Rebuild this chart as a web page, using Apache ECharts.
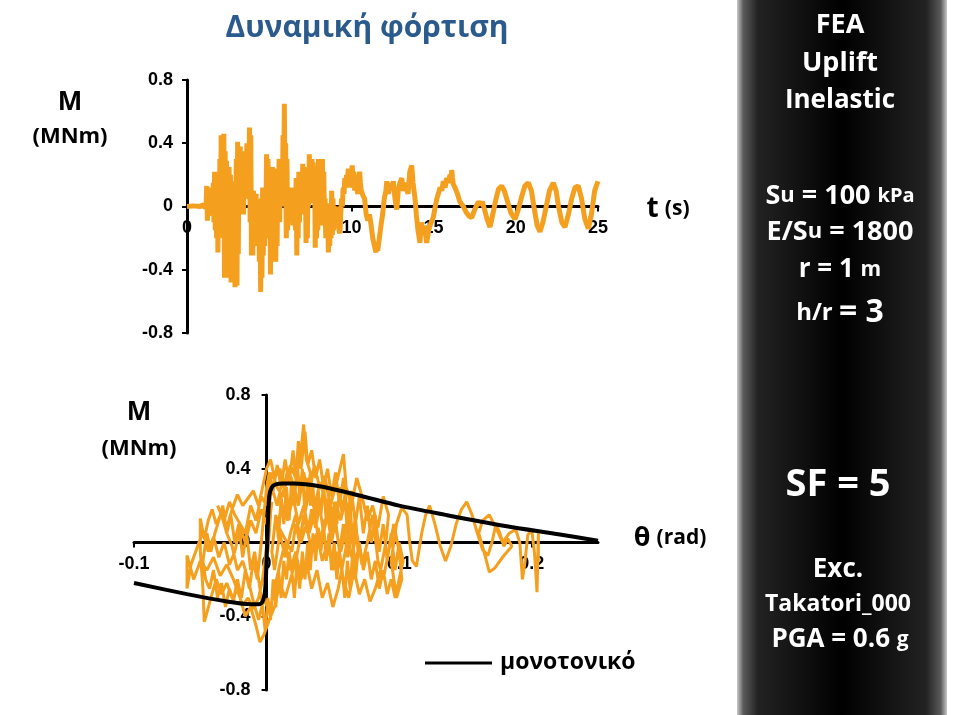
<!DOCTYPE html>
<html><head><meta charset="utf-8">
<script src="https://cdn.jsdelivr.net/npm/echarts@6/dist/echarts.min.js"></script>
<style>html,body{margin:0;padding:0;background:#fff}#c{width:953px;height:715px}</style>
</head><body><div id="c"></div>
<script>
// ---- Time history M(t) ----
const earlyT = [0,0.4,0.8,1.0,1.1,1.16];
const earlyM = [0,0.004,0,0.012,-0.01,0.01];
const denseStart = 1.2, denseStep = 0.04;   // sampling of the strong-motion part (1.20 s ... 8.96 s)
const denseM = [
 0.13,-0.09,0.08,-0.06,0.12,  -0.05,0.1,-0.03,0.08,-0.04,  0.15,-0.1,0.22,-0.15,0.18,  -0.2,0.2,-0.29,0.1,-0.15,
 0.3,-0.05,0.45,0.1,0.42,  -0.2,0.46,-0.45,0.35,-0.3,  0.29,-0.45,0.2,-0.35,0.25,  -0.3,0.2,-0.48,0.1,-0.4,
 0.16,-0.45,0.05,-0.51,-0.1,  0.3,-0.5,0.41,-0.3,0.35,  0.05,0.38,0.0,0.32,0.1,  0.35,-0.05,0.3,0.05,0.28,
 0.05,0.4,0.1,0.35,0.08,  0.5,-0.1,0.45,-0.31,0.1,  -0.31,0.1,-0.25,0.05,-0.2,  0.08,-0.25,0.02,-0.2,0.05,
 -0.35,0.0,-0.54,-0.1,-0.45,  0.12,-0.31,0.05,-0.25,0.1,  -0.05,0.33,0.0,0.3,0.15,  -0.2,0.15,-0.43,0.1,-0.35,
 0.25,-0.3,0.2,-0.2,0.22,  -0.35,0.24,-0.25,0.2,-0.1,  0.3,-0.1,0.25,0.0,0.3,  0.05,0.45,0.0,0.65,0.1,
 0.4,-0.2,0.3,-0.15,0.1,  -0.1,0.12,-0.08,0.1,-0.05,  0.12,-0.12,0.1,-0.1,0.08,  -0.15,0.18,-0.31,0.1,-0.2,
 0.22,-0.1,0.2,-0.05,0.15,  -0.05,0.27,0.0,0.25,-0.02,  0.2,-0.23,0.15,-0.2,0.1,  0.0,0.33,0.05,0.3,0.02,
 0.3,0.05,0.28,0.08,0.25,  -0.26,0.2,-0.2,0.1,-0.15,  0.3,0.05,0.28,0.1,0.25,  -0.12,0.3,-0.05,0.22,-0.1,
 0.05,-0.2,0.02,-0.15,0.0,  -0.29,-0.05,-0.25,-0.1,-0.2,  0.1,-0.18,0.05,-0.15,0.0];
const lateT = [9.05,9.1,9.15,9.2,9.25,9.3,9.35,9.4,9.45,9.5,9.55,9.6,9.65,9.7,9.75,9.81,9.86,9.9,9.95,10.0,10.05,10.1,10.15,10.2,10.25,10.3,10.35,10.4,10.45,10.5,10.55,10.6,10.7,10.8,10.9,11.0,11.1,11.2,11.3,11.4,11.5,11.55,11.6,11.7,11.8,11.9,12.0,12.1,12.15,12.25,12.35,12.45,12.55,12.65,12.76,12.85,12.95,13.06,13.15,13.25,13.36,13.45,13.55,13.67,13.75,13.87,13.95,14.05,14.17,14.25,14.35,14.45,14.58,14.7,14.85,14.98,15.1,15.2,15.29,15.4,15.5,15.59,15.7,15.8,15.9,16.0,16.05,16.1,16.15,16.2,16.3,16.45,16.6,16.81,17.0,17.15,17.32,17.5,17.72,17.85,17.96,18.1,18.25,18.43,18.6,18.8,18.95,19.14,19.3,19.5,19.7,19.95,20.15,20.35,20.55,20.76,20.95,21.1,21.3,21.47,21.65,21.85,22.05,22.28,22.45,22.6,22.8,22.99,23.2,23.4,23.6,23.8,24.0,24.2,24.41,24.6,24.8,25.0];
const lateM = [-0.08,-0.12,0,-0.1,-0.15,-0.17,-0.05,0.05,0,0.12,0.08,0.18,0.12,0.2,0.15,0.24,0.18,0.22,0.12,0.2,0.26,0.15,0.22,0.1,0.17,0.2,0.1,0.08,0.16,0.22,0.15,0.1,0.07,0.05,-0.05,-0.09,-0.05,-0.12,-0.2,-0.25,-0.29,-0.24,-0.28,-0.2,-0.12,-0.05,0.05,0.1,0.16,0.08,0.15,0.1,0.16,0.05,-0.02,0.1,0.15,0.18,0.1,0.15,0.15,0.08,0.22,0.26,0.15,0.05,-0.05,-0.15,-0.23,-0.1,-0.18,-0.12,-0.23,-0.15,-0.1,-0.07,0,0.05,0.05,0.12,0.1,0.16,0.12,0.18,0.15,0.2,0.17,0.23,0.18,0.14,0.12,0.08,0.03,0,-0.04,-0.06,-0.07,-0.02,0.03,0.01,0.03,-0.02,-0.08,-0.13,-0.05,0.05,0.11,0.13,0.1,0.03,-0.04,-0.08,-0.02,0.06,0.13,0.15,0.1,0,-0.12,-0.16,-0.1,0,0.1,0.15,0.1,0,-0.1,-0.13,-0.05,0.05,0.12,0.13,0.05,-0.08,-0.14,-0.05,0.1,0.16];

// ---- Hysteresis M(theta) ----
const thetaX = [0,0.002,0.001,0.003,-0.002,0.004,-0.003,
 -0.006,-0.01,-0.014,-0.018,-0.022,-0.026,-0.03,-0.034,-0.038,-0.042,-0.045,-0.047,-0.048,-0.05,-0.05,
 -0.047,-0.044,-0.041,-0.038,-0.034,-0.03,-0.026,-0.022,-0.018,-0.014,-0.01,-0.006,-0.003,0,0.003,0.006,0.01,0.014,0.018,0.022,0.026,0.028,0.03,0.033,
 0.03,0.026,0.022,0.018,0.014,0.01,0.006,0.002,-0.002,-0.005,-0.008,-0.012,-0.016,-0.02,-0.025,-0.03,-0.035,-0.04,-0.045,-0.05,-0.055,-0.06,-0.06,-0.057,
 -0.052,-0.048,-0.044,-0.04,-0.036,-0.032,-0.028,-0.024,-0.02,-0.016,-0.012,-0.008,-0.004,0,0.004,0.008,0.012,0.016,0.02,0.024,0.028,0.032,0.036,0.04,0.044,0.048,0.052,0.056,0.058,0.06,0.064,
 0.062,0.058,0.054,0.05,0.046,0.042,0.038,0.034,0.03,0.026,0.022,0.018,0.014,0.01,0.006,0.002,-0.002,-0.006,-0.01,-0.014,-0.018,-0.022,-0.026,-0.03,-0.034,-0.037,
 -0.032,-0.028,-0.024,-0.02,-0.016,-0.012,-0.008,-0.004,0,0.004,0.008,0.012,0.016,0.02,0.024,0.028,0.032,0.036,0.04,0.044,0.048,0.052,0.056,0.06,0.064,0.068,0.072,0.076,0.08,0.084,0.088,0.092,
 0.09,0.086,0.082,0.078,0.074,0.07,0.066,0.062,0.058,0.054,0.05,0.046,0.042,0.038,0.034,0.03,0.026,0.022,0.018,0.014,0.01,0.006,0.004,
 0.007,0.009,0.011,0.013,0.015,0.017,0.019,0.021,0.023,0.025,0.027,0.029,0.031,0.033,0.035,0.037,0.039,0.041,0.043,0.045,0.047,0.049,0.051,0.053,0.055,0.057,0.059,0.061,0.063,0.065,0.067,0.069,
 0.067,0.065,0.063,0.061,0.059,0.057,0.055,0.053,0.051,0.049,0.047,0.045,0.043,0.041,0.039,0.037,0.035,0.033,0.031,0.029,0.027,0.025,0.023,0.021,0.019,0.017,0.015,0.013,0.011,0.009,0.007,0.005,0.003,0.001,-0.001,-0.003,
 -0.006,-0.009,-0.012,-0.015,-0.018,-0.021,-0.024,-0.027,-0.03,-0.033,-0.036,-0.039,-0.042,-0.045,-0.048,-0.046,-0.043,-0.04,-0.037,-0.034,-0.031,-0.028,-0.025,-0.022,-0.019,-0.016,-0.013,-0.01,-0.007,-0.004,-0.002,0,0.002,
 0.005,0.008,0.011,0.014,0.017,0.02,0.022,0.024,0.026,0.029,0.031,0.034,0.037,0.04,0.043,0.046,0.049,0.052,0.055,0.058,0.061,0.064,0.067,0.07,0.073,0.076,0.079,0.082,0.085,0.088,0.091,0.094,0.097,0.1,0.103,
 0.1,0.097,0.094,0.091,0.088,0.085,0.082,0.079,0.076,0.073,0.07,0.067,0.064,0.061,0.058,0.055,0.052,0.049,0.046,0.043,0.04,0.037,0.034,0.031,0.028,0.025,0.022,0.019,
 0.008,0.012,0.016,0.02,0.024,0.028,0.032,0.036,0.04,0.044,0.048,0.052,0.056,0.06,0.064,0.068,0.072,0.076,0.08,0.084,0.088,0.092,0.096,0.1,0.102,0.098,0.094,0.098,0.102,0.106,0.108,0.11,0.113,
 0.117,0.12,0.123,0.127,0.131,0.135,0.139,0.143,0.147,0.151,0.155,0.159,0.163,0.167,0.17,0.173,0.176,0.179,0.182,0.185,
 0.178,0.172,0.168,0.164,0.16,0.163,0.168,0.173,0.178,0.183,0.188,0.191,0.193,0.195,0.197,0.2,0.202,0.203,0.204,0.205,0.205];
const thetaM = [0,0.1,-0.05,0.15,-0.15,0.22,-0.2,
 -0.3,-0.36,-0.3,-0.34,-0.26,-0.3,-0.22,-0.28,-0.2,-0.3,-0.38,-0.43,-0.25,-0.05,0.13,
 0.02,0.12,0.18,0.1,0.16,0.08,0.18,0.26,0.2,0.24,0.28,0.2,0.3,0.4,0.45,0.35,0.4,0.3,0.42,0.35,0.5,0.64,0.45,0.38,
 0.2,0.05,-0.1,-0.2,-0.3,-0.22,-0.35,-0.42,-0.5,-0.54,-0.45,-0.35,-0.4,-0.3,-0.2,-0.12,-0.18,-0.08,-0.15,-0.1,-0.2,-0.07,-0.25,-0.12,
 -0.02,0.06,-0.05,0.03,-0.08,0,-0.12,-0.05,0.08,0,0.12,0.05,0.18,0.1,0.3,0.2,0.35,0.15,0.3,0.2,0.38,0.25,0.42,0.3,0.36,0.2,0.3,0.42,0.48,0.3,0.22,
 0.05,-0.1,-0.25,-0.35,-0.22,-0.3,-0.15,-0.25,-0.1,-0.2,-0.05,-0.15,0,-0.12,-0.25,-0.38,-0.3,-0.42,-0.32,-0.2,-0.1,-0.15,-0.02,0.05,0.15,0.2,
 0.12,0.22,0.15,0.1,0.05,0.2,0.12,0.25,0.2,0.38,0.3,0.25,0.4,0.32,0.22,0.35,0.3,0.18,0.32,0.25,0.1,0.22,0.12,0.3,0.2,0.35,0.25,0.12,0.2,0.08,0.25,0.15,
 0,-0.15,-0.25,-0.32,-0.2,-0.28,-0.15,-0.3,-0.2,-0.05,-0.15,0,-0.1,0.05,-0.05,0.1,0,0.15,0.05,-0.08,0.05,-0.15,-0.05,
 0.15,0.02,0.25,0.1,0.3,0.12,0.35,0.2,0.45,0.25,0.4,0.15,0.35,0.2,0.3,0.1,0.28,0.15,0.32,0.12,0.25,0.05,0.22,0.1,0.3,0.15,0.25,0.05,0.2,0,0.15,-0.05,
 -0.2,-0.05,-0.25,-0.1,-0.3,-0.15,-0.05,-0.2,0,-0.15,0.05,-0.1,0.1,-0.05,0.08,-0.1,0.05,-0.15,0,-0.2,-0.05,-0.25,-0.1,-0.3,-0.15,-0.05,-0.2,-0.1,-0.3,-0.15,-0.35,-0.2,-0.42,-0.3,-0.48,-0.35,
 -0.2,-0.05,-0.15,0.05,-0.08,0.1,0,0.15,0.05,0.2,0.12,0.05,-0.05,0.05,-0.1,-0.2,-0.25,-0.15,-0.3,-0.22,-0.35,-0.25,-0.32,-0.2,-0.3,-0.15,-0.25,-0.1,-0.2,0,0.15,0.3,0.38,
 0.28,0.42,0.3,0.45,0.32,0.5,0.35,0.55,0.4,0.6,0.42,0.5,0.35,0.45,0.3,0.4,0.25,0.38,0.2,0.35,0.15,0.28,0.1,0.25,0.05,0.2,0,0.15,-0.05,0.1,-0.1,0.05,-0.15,0,-0.1,
 -0.2,-0.3,-0.2,-0.28,-0.15,-0.25,-0.1,-0.2,-0.05,-0.15,0,-0.12,0.05,-0.08,0.1,-0.05,0.12,0,0.15,0.05,0.2,0.08,0.18,0.05,0.15,0,0.1,-0.05,
 0.1,0.2,0.12,0.25,0.1,0.2,0.05,0.15,0,0.12,0.2,0.08,-0.05,0.1,-0.08,0.05,-0.12,0,0.15,-0.1,-0.2,-0.05,0.1,-0.05,-0.2,-0.3,-0.1,0.1,0.19,0.15,0,-0.1,-0.13,
 0.05,0.15,0.2,0.1,-0.02,-0.1,-0.02,0.1,0.18,0.22,0.15,0.05,-0.04,-0.07,0,0.1,0.05,-0.02,0.02,-0.02,
 -0.08,-0.14,-0.16,-0.05,0.05,0.12,0.15,0.08,0,0.05,0.07,0,-0.2,-0.1,0.04,0.07,-0.05,-0.15,-0.27,0.05,-0.1];

// ---- Monotonic curve ----
const monoTheta = [-0.1,-0.06,-0.03,-0.012,-0.006,-0.003,-0.001,0.0005,0.002,0.004,0.007,0.012,0.02,0.04,0.07,0.1,0.135,0.18,0.22,0.25];
const monoM = [-0.22,-0.28,-0.32,-0.335,-0.335,-0.32,-0.25,0,0.25,0.3,0.315,0.32,0.32,0.305,0.255,0.2,0.15,0.09,0.045,0.01];

const topX = {min:0, max:25, interval:5};
const topY = {min:-0.8, max:0.8, interval:0.4};
const botX = {min:-0.1, max:0.25, interval:0.1};
const botY = {min:-0.8, max:0.8, interval:0.4};

const timeT = earlyT.concat(denseM.map((_,i)=>+(denseStart+i*denseStep).toFixed(2)), lateT);
const timeM = earlyM.concat(denseM, lateM);

const ORANGE = '#F59F1E';
const LBL = {color:'#000', fontFamily:'"Liberation Sans", Arial, sans-serif', fontWeight:'bold', fontSize:18};
const zip = (a,b)=>a.map((v,i)=>[v,b[i]]);

const G1 = {left:187, top:80, width:411, height:253};
const G2 = {left:134, top:395, width:464, height:295};
const g1xOff = -G1.height*(topY.max-0)/(topY.max-topY.min);
const g2xOff = -G2.height*(botY.max-0)/(botY.max-botY.min);
const g2yOff = -G2.width*(0-botX.min)/(botX.max-botX.min);

function axisBase(extra){
  return Object.assign({
    type:'value', splitLine:{show:false},
    axisLine:{show:true, onZero:false, lineStyle:{color:'#000', width:3}},
    axisTick:{show:true, length:5, lineStyle:{color:'#000', width:2}},
  }, extra);
}

const FF = '"Open Sans", "Noto Sans", sans-serif';
function T(x,y,text,size,opt){
  opt = opt||{};
  return {type:'text', x:x, y:y, z:10, style:Object.assign({text:text, fill:opt.fill||'#000',
    font:'bold '+size+'px '+FF, align:opt.align||'center', verticalAlign:'middle'}, opt.rich?{rich:opt.rich}:{})};
}
function R(size,fill){ return {fontSize:size, fontWeight:'bold', fontFamily:FF, fill:fill||'#fff', verticalAlign:'middle'}; }

const chart = echarts.init(document.getElementById('c'), null, {renderer:'canvas'});
chart.setOption({
  animation:false,
  backgroundColor:'#fff',
  grid:[
    Object.assign({containLabel:false}, G1),
    Object.assign({containLabel:false}, G2)
  ],
  xAxis:[
    axisBase({gridIndex:0, position:'bottom', offset:g1xOff, min:topX.min, max:topX.max, interval:topX.interval,
      axisLabel:Object.assign({margin:13}, LBL)}),
    axisBase({gridIndex:1, position:'bottom', offset:g2xOff, min:botX.min, max:botX.max, interval:botX.interval,
      axisLabel:Object.assign({margin:13, showMaxLabel:false}, LBL)})
  ],
  yAxis:[
    axisBase({gridIndex:0, position:'left', min:topY.min, max:topY.max, interval:topY.interval,
      axisLabel:Object.assign({margin:14}, LBL)}),
    axisBase({gridIndex:1, position:'left', offset:g2yOff, min:botY.min, max:botY.max, interval:botY.interval,
      axisLabel:Object.assign({margin:16}, LBL)})
  ],
  series:[
    {type:'line', xAxisIndex:0, yAxisIndex:0, data:zip(timeT,timeM), showSymbol:false, symbol:'none',
     lineStyle:{color:ORANGE, width:5}, z:3},
    {type:'line', xAxisIndex:1, yAxisIndex:1, data:zip(thetaX,thetaM), showSymbol:false, symbol:'none',
     lineStyle:{color:ORANGE, width:3}, z:3},
    {type:'line', xAxisIndex:1, yAxisIndex:1, data:zip(monoTheta,monoM), showSymbol:false, symbol:'none',
     smooth:0.3, lineStyle:{color:'#000', width:4}, z:5}
  ],
  graphic:[
    {type:'rect', shape:{x:737, y:0, width:210, height:715}, z:1,
     style:{fill:new echarts.graphic.LinearGradient(0,0,1,0,[
       {offset:0,color:'#c8c8c8'},{offset:0.03,color:'#5a5a5a'},{offset:0.1,color:'#222'},
       {offset:0.5,color:'#000'},{offset:0.9,color:'#222'},{offset:0.97,color:'#5a5a5a'},{offset:1,color:'#c8c8c8'}])}},
    T(367,28,'Δυναμική φόρτιση',30,{fill:'#2B5A8C'}),
    T(70,103,'M',26),
    T(70,137,'(MNm)',22),
    T(139,413,'M',26),
    T(139,449,'(MNm)',22),
    T(668,209,'{a|t} {b|(s)}',24,{rich:{a:R(28,'#000'),b:R(21,'#000')}}),
    T(670,538,'{a|θ} {b|(rad)}',24,{rich:{a:R(27,'#000'),b:R(21,'#000')}}),
    {type:'line', shape:{x1:425,y1:663,x2:492,y2:663}, z:10, style:{stroke:'#000', lineWidth:3}},
    T(500,662,'μονοτονικό',23,{align:'left'}),
    T(840,25,'FEA',27,{fill:'#fff'}),
    T(840,63,'Uplift',27,{fill:'#fff'}),
    T(840,101,'Inelastic',26,{fill:'#fff'}),
    T(840,196,'{a|S}{b|u}{a| = 100 }{c|kPa}',26,{fill:'#fff',rich:{a:R(27),b:R(22),c:R(20)}}),
    T(840,232,'{a|E/S}{b|u}{a| = 1800}',26,{fill:'#fff',rich:{a:R(27),b:R(22)}}),
    T(840,270,'{a|r = 1 }{c|m}',26,{fill:'#fff',rich:{a:R(26),c:R(21)}}),
    T(840,313,'{c|h/r }{a|= 3}',26,{fill:'#fff',rich:{a:R(32),c:R(24)}}),
    T(838,485,'SF = 5',38,{fill:'#fff'}),
    T(838,570,'Exc.',26,{fill:'#fff'}),
    T(838,604,'Takatori_000',23,{fill:'#fff'}),
    T(840,640,'{a|PGA = 0.6 }{c|g}',26,{fill:'#fff',rich:{a:R(26),c:R(21)}})
  ]
});
</script>
</body></html>
